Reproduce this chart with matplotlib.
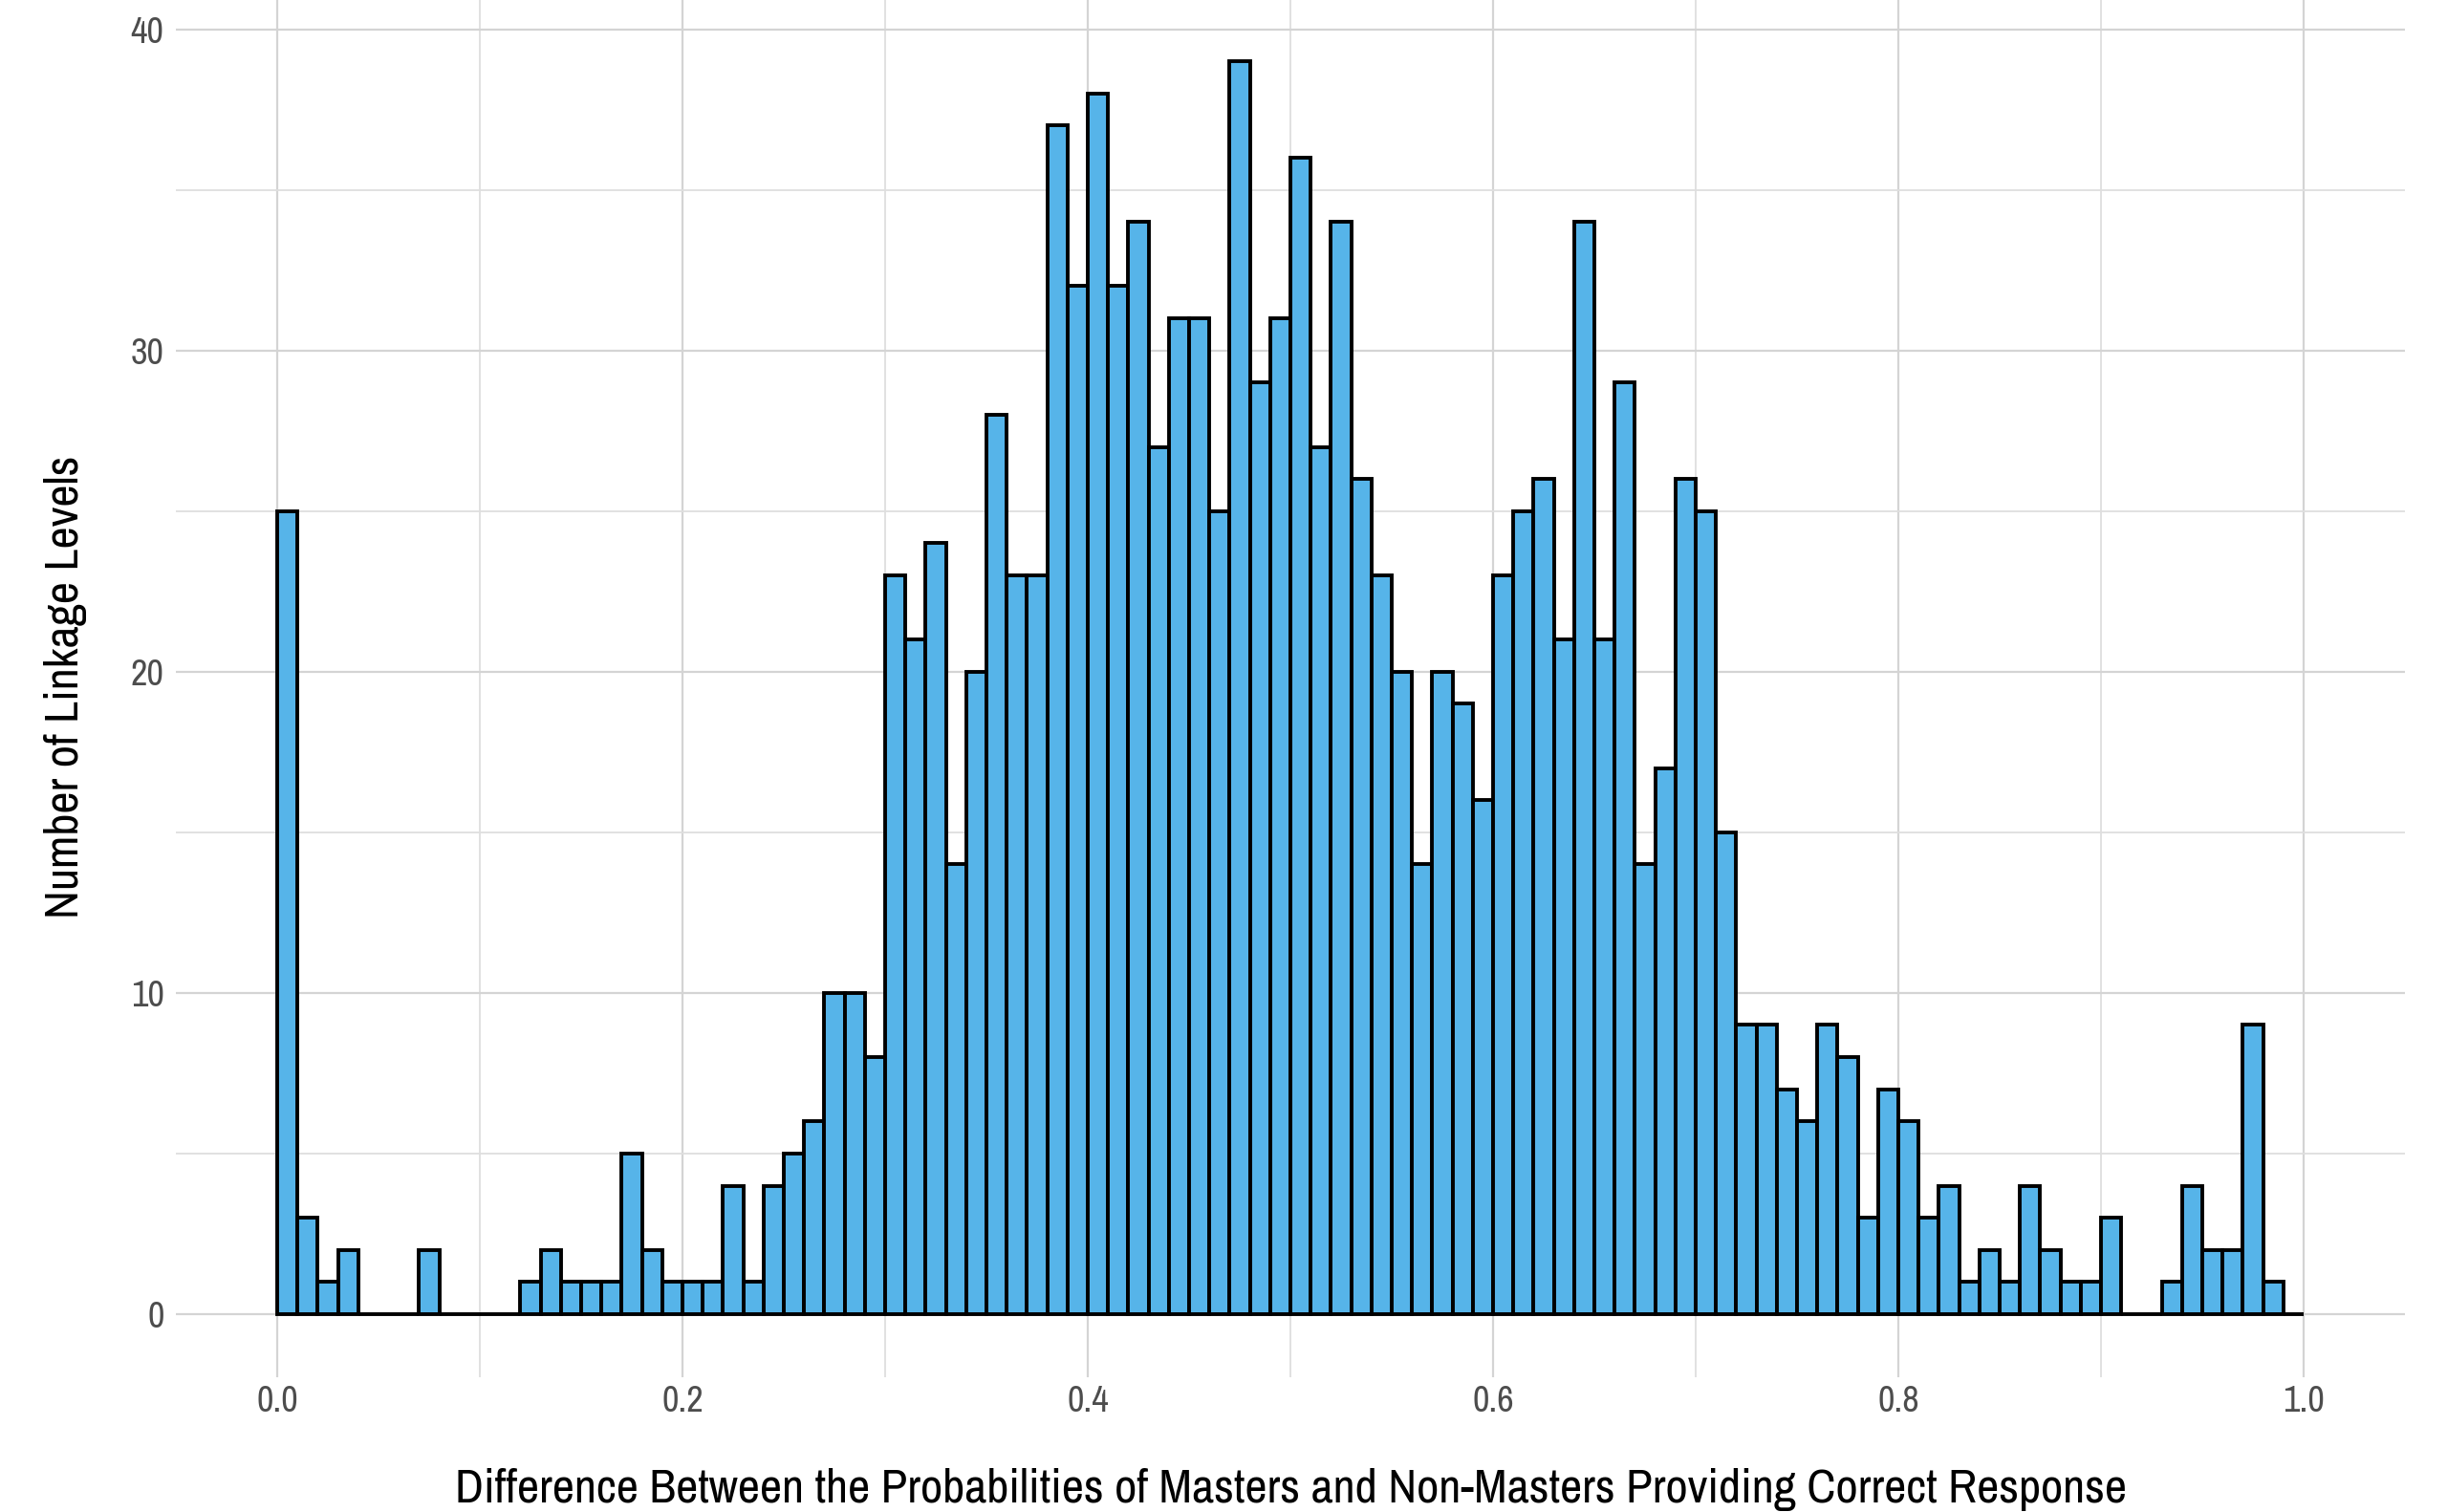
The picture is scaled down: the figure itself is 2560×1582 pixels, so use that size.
import matplotlib
matplotlib.use('Agg')
import matplotlib.pyplot as plt
from matplotlib import font_manager

# histogram counts, bins of width 0.01 from 0.00 to 1.00
bin_left = [i / 100 for i in range(100)]
counts = [25, 3, 1, 2, 0, 0, 0, 2, 0, 0,
          0, 0, 1, 2, 1, 1, 1, 5, 2, 1,
          1, 1, 4, 1, 4, 5, 6, 10, 10, 8,
          23, 21, 24, 14, 20, 28, 23, 23, 37, 32,
          38, 32, 34, 27, 31, 31, 25, 39, 29, 31,
          36, 27, 34, 26, 23, 20, 14, 20, 19, 16,
          23, 25, 26, 21, 34, 21, 29, 14, 17, 26,
          25, 15, 9, 9, 7, 6, 9, 8, 3, 7,
          6, 3, 4, 1, 2, 1, 4, 2, 1, 1,
          3, 0, 0, 1, 4, 2, 2, 9, 1, 0]

x_major = [0.0, 0.2, 0.4, 0.6, 0.8, 1.0]
x_minor = [0.1, 0.3, 0.5, 0.7, 0.9]
x_labels = ['0.0', '0.2', '0.4', '0.6', '0.8', '1.0']
y_major = [0, 10, 20, 30, 40]
y_minor = [5, 15, 25, 35]

xlab = 'Difference Between the Probabilities of Masters and Non-Masters Providing Correct Response'
ylab = 'Number of Linkage Levels'

# narrow grotesque, closest thing to the Helvetica Narrow look
names = {f.name for f in font_manager.fontManager.ttflist}
fam = 'Liberation Sans'
for c in ['Liberation Sans Narrow', 'Archivo Narrow', 'Roboto Condensed', 'PT Sans Narrow']:
    if c in names:
        fam = c
        break
plt.rcParams['font.family'] = [fam, 'DejaVu Sans']

W, H = 2560, 1582
fig = plt.figure(figsize=(W / 100, H / 100), dpi=100)
ax = fig.add_axes([184 / W, 1 - 1440.5 / H, (2516 - 184) / W, 1441.8 / H])

ax.bar(bin_left, counts, width=0.01, align='edge', color='#56B4E9',
       edgecolor='black', linewidth=2.8, zorder=3)

ax.set_xlim(-0.05, 1.05)
ax.set_ylim(-1.95, 40.95)
ax.set_xticks(x_major)
ax.set_xticks(x_minor, minor=True)
ax.set_xticklabels(x_labels)
ax.set_yticks(y_major)
ax.set_yticks(y_minor, minor=True)

ax.grid(True, which='major', color='#D4D4D4', linewidth=1.6, zorder=0)
ax.grid(True, which='minor', color='#DEDEDE', linewidth=1.3, zorder=0)
for s in ax.spines.values():
    s.set_visible(False)

ax.tick_params(which='both', length=0)
ax.tick_params(axis='x', labelsize=28, labelcolor='#4D4D4D', pad=6)
ax.tick_params(axis='y', labelsize=28, labelcolor='#4D4D4D', pad=9)

# axis titles placed on their baselines
tx = fig.text(1351 / W, 1 - 1572 / H, xlab, ha='center', va='baseline',
              fontsize=37, color='black')
ty = fig.text(82 / W, 1 - 719 / H, ylab, ha='center', va='baseline',
              rotation=90, rotation_mode='anchor', fontsize=37, color='black')

# size the titles so the x title spans the same width as in the original
fig.canvas.draw()
w = tx.get_window_extent(fig.canvas.get_renderer()).width
k = 1752 / w
tx.set_fontsize(37 * k)
ty.set_fontsize(37 * k)
ax.tick_params(axis='both', labelsize=28 * k)

fig.savefig('out.png', dpi=100, facecolor='white')
